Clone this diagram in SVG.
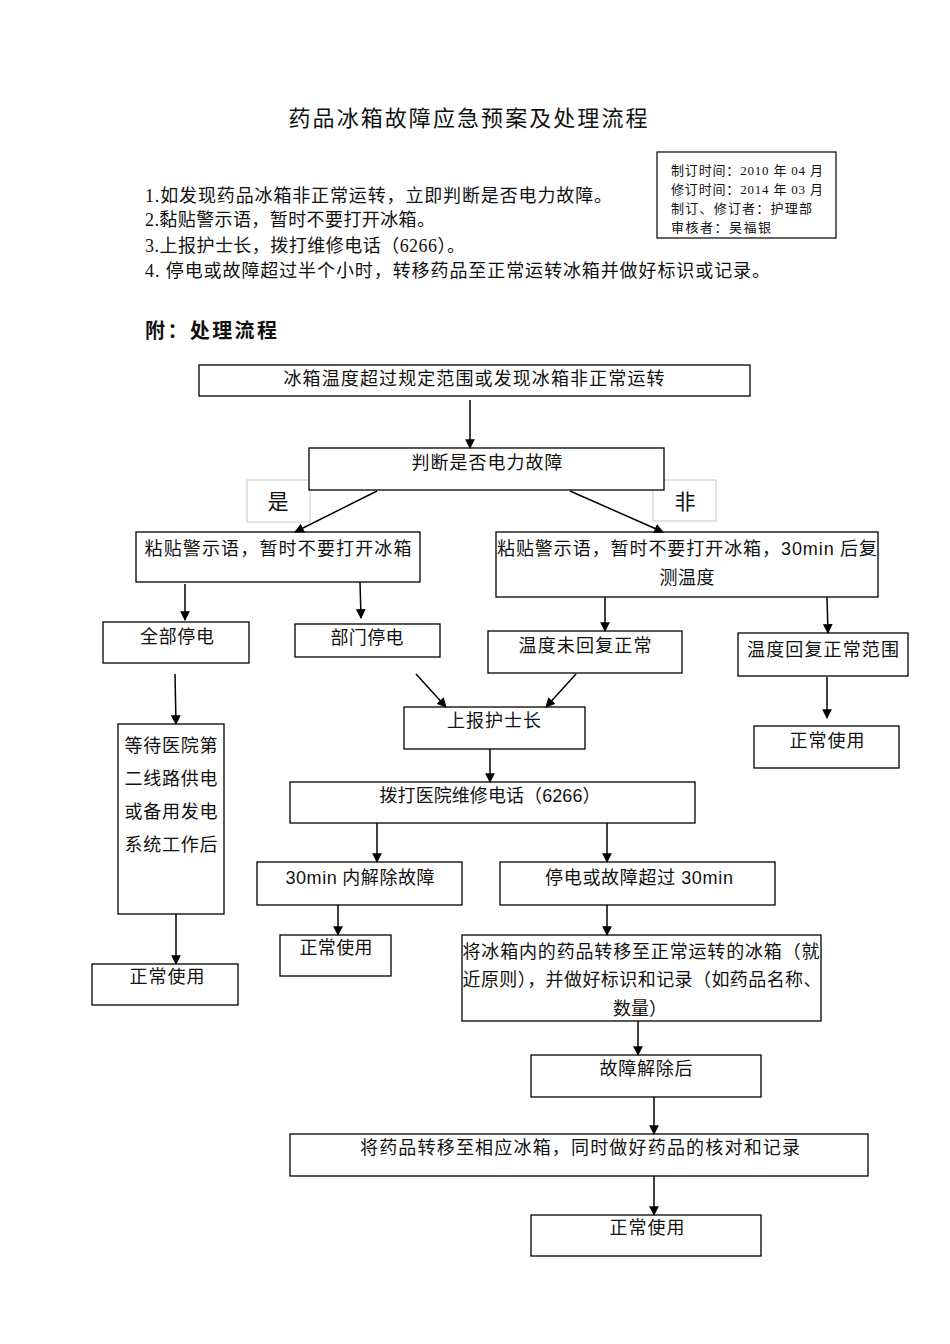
<svg xmlns="http://www.w3.org/2000/svg" width="950" height="1344" viewBox="0 0 950 1344">
<style>
text{font-family:"Liberation Serif","Noto Sans CJK SC",serif;fill:#111;}
.t{font-size:18px;text-anchor:middle;}
.l{font-size:18px;}
.i{font-size:13px;}
.s{font-family:"Liberation Sans","Noto Sans CJK SC",sans-serif;}
.box{fill:#fff;stroke:#000;stroke-width:1.3;}
.lbl{fill:#fff;stroke:#c8c8c8;stroke-width:1;}
.c{stroke:#000;stroke-width:1.5;fill:none;marker-end:url(#ah);}
</style>
<defs>
<marker id="ah" viewBox="0 0 10 10" refX="9" refY="5" markerWidth="6.5" markerHeight="6.5" orient="auto" markerUnits="strokeWidth">
<path d="M0,0 L10,5 L0,10 z" fill="#000"/>
</marker>
</defs>
<rect width="950" height="1344" fill="#fff"/>

<g id="header">
<text x="468" y="126" style="font-size:22px;text-anchor:middle" textLength="359">药品冰箱故障应急预案及处理流程</text>
<text class="l" x="145" y="202" textLength="467">1.如发现药品冰箱非正常运转，立即判断是否电力故障。</text>
<text class="l" x="145" y="226" textLength="290">2.黏贴警示语，暂时不要打开冰箱。</text>
<text class="l" x="145" y="252" textLength="320">3.上报护士长，拨打维修电话（6266）。</text>
<text class="l" x="145" y="277" textLength="625">4. 停电或故障超过半个小时，转移药品至正常运转冰箱并做好标识或记录。</text>
<text x="145" y="338" style="font-size:20px;font-weight:bold" textLength="132">附：处理流程</text>
</g>

<g id="info">
<rect x="657" y="152" width="179" height="86" fill="#fff" stroke="#000" stroke-width="1.2"/>
<text class="i" x="671" y="175" textLength="152">制订时间：2010 年 04 月</text>
<text class="i" x="671" y="194" textLength="152">修订时间：2014 年 03 月</text>
<text class="i" x="671" y="213" textLength="141">制订、修订者：护理部</text>
<text class="i" x="671" y="232" textLength="100">审核者：吴福银</text>
</g>

<g id="n1"><rect class="box" x="199" y="365" width="551" height="31"/>
<text class="t" x="474" y="385" textLength="381">冰箱温度超过规定范围或发现冰箱非正常运转</text></g>

<g id="lblYes"><rect class="lbl" x="247" y="480" width="63" height="42"/>
<text x="278" y="509" style="font-size:21px;text-anchor:middle">是</text></g>
<g id="lblNo"><rect class="lbl" x="653" y="480" width="63" height="41"/>
<text x="685" y="509" style="font-size:21px;text-anchor:middle">非</text></g>

<g id="n2"><rect class="box" x="309" y="448" width="355" height="42"/>
<text class="t" x="487" y="469" textLength="151">判断是否电力故障</text></g>

<g id="n3"><rect class="box" x="136" y="532" width="284" height="50"/>
<text class="t" x="278" y="555" textLength="267">粘贴警示语，暂时不要打开冰箱</text></g>

<g id="n4"><rect class="box" x="496" y="532" width="382" height="65"/>
<text class="t" x="687" y="555" textLength="380">粘贴警示语，暂时不要打开冰箱，<tspan class="s">30min</tspan> 后复</text>
<text class="t" x="687" y="584" textLength="55">测温度</text></g>

<g id="n5"><rect class="box" x="103" y="622" width="146" height="41"/>
<text class="t" x="177" y="643" textLength="74">全部停电</text></g>

<g id="n6"><rect class="box" x="295" y="624" width="145" height="33"/>
<text class="t" x="367" y="644" textLength="73">部门停电</text></g>

<g id="n7"><rect class="box" x="488" y="631" width="194" height="42"/>
<text class="t" x="585" y="652" textLength="133">温度未回复正常</text></g>

<g id="n8"><rect class="box" x="738" y="633" width="170" height="43"/>
<text class="t" x="823" y="656" textLength="152">温度回复正常范围</text></g>

<g id="n9"><rect class="box" x="118" y="724" width="106" height="190"/>
<text class="t" x="171" y="752" textLength="93">等待医院第</text>
<text class="t" x="171" y="785" textLength="93">二线路供电</text>
<text class="t" x="171" y="818" textLength="93">或备用发电</text>
<text class="t" x="171" y="851" textLength="93">系统工作后</text></g>

<g id="n10"><rect class="box" x="404" y="707" width="181" height="42"/>
<text class="t" x="494" y="727" textLength="94">上报护士长</text></g>

<g id="n11"><rect class="box" x="754" y="726" width="145" height="42"/>
<text class="t" x="827" y="747" textLength="75">正常使用</text></g>

<g id="n12"><rect class="box" x="290" y="782" width="405" height="41"/>
<text class="t" x="490" y="802" textLength="221">拨打医院维修电话（<tspan class="s">6266</tspan>）</text></g>

<g id="n13"><rect class="box" x="257" y="862" width="205" height="43"/>
<text class="t" x="360" y="884" textLength="149"><tspan class="s">30min</tspan> 内解除故障</text></g>

<g id="n14"><rect class="box" x="500" y="862" width="275" height="43"/>
<text class="t" x="639" y="884" textLength="188">停电或故障超过 <tspan class="s">30min</tspan></text></g>

<g id="n15"><rect class="box" x="280" y="935" width="111" height="41"/>
<text class="t" x="336" y="954" textLength="73">正常使用</text></g>

<g id="n16"><rect class="box" x="92" y="964" width="146" height="41"/>
<text class="t" x="167" y="983" textLength="75">正常使用</text></g>

<g id="n17"><rect class="box" x="462" y="935" width="359" height="86"/>
<text class="t" x="641" y="958" textLength="357">将冰箱内的药品转移至正常运转的冰箱（就</text>
<text class="t" x="642" y="986" textLength="359">近原则），并做好标识和记录（如药品名称、</text>
<text class="t" x="640" y="1015">数量）</text></g>

<g id="n18"><rect class="box" x="531" y="1055" width="230" height="42"/>
<text class="t" x="646" y="1075" textLength="93">故障解除后</text></g>

<g id="n19"><rect class="box" x="290" y="1134" width="578" height="42"/>
<text class="t" x="580" y="1154" textLength="440">将药品转移至相应冰箱，同时做好药品的核对和记录</text></g>

<g id="n20"><rect class="box" x="531" y="1215" width="230" height="41"/>
<text class="t" x="647" y="1234" textLength="75">正常使用</text></g>

<g id="connectors">
<line class="c" x1="470" y1="400" x2="470" y2="448"/>
<line class="c" x1="377" y1="491" x2="295" y2="532"/>
<line class="c" x1="570" y1="491" x2="663" y2="532"/>
<line class="c" x1="185" y1="584" x2="185" y2="620"/>
<line class="c" x1="360" y1="582" x2="361" y2="618"/>
<line class="c" x1="605" y1="597" x2="605" y2="631"/>
<line class="c" x1="827" y1="597" x2="828" y2="633"/>
<line class="c" x1="175" y1="674" x2="176" y2="724"/>
<line class="c" x1="416" y1="674" x2="446" y2="707"/>
<line class="c" x1="576" y1="674" x2="546" y2="707"/>
<line class="c" x1="827" y1="677" x2="827" y2="718"/>
<line class="c" x1="490" y1="749" x2="490" y2="782"/>
<line class="c" x1="377" y1="823" x2="377" y2="862"/>
<line class="c" x1="607" y1="823" x2="607" y2="862"/>
<line class="c" x1="338" y1="905" x2="338" y2="935"/>
<line class="c" x1="607" y1="905" x2="607" y2="935"/>
<line class="c" x1="176" y1="914" x2="176" y2="964"/>
<line class="c" x1="638" y1="1021" x2="638" y2="1055"/>
<line class="c" x1="654" y1="1097" x2="654" y2="1134"/>
<line class="c" x1="654" y1="1176" x2="654" y2="1215"/>
</g>
</svg>
